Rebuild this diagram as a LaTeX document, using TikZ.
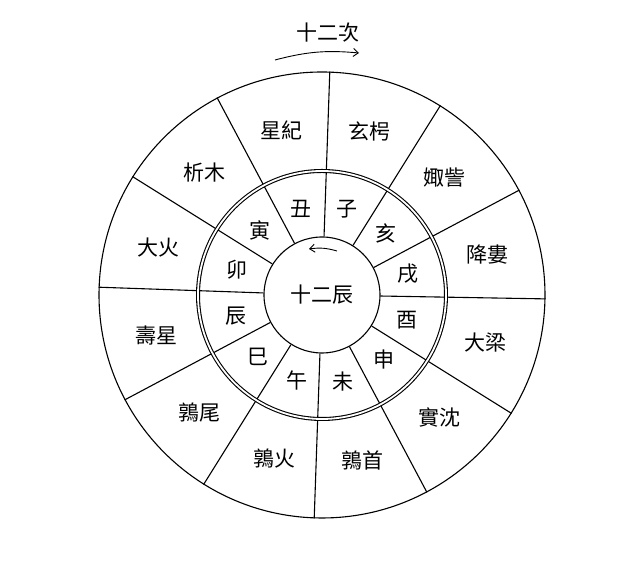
\documentclass[tikz,border=0pt]{standalone}
\usepackage{fontspec}
\setmainfont{Noto Sans CJK TC}
\usetikzlibrary{arrows.meta,backgrounds}

\begin{document}
\begin{tikzpicture}[x=1pt, y=1pt, line width=1.1pt,
  ring/.style = {circle, draw, line width=1.1pt, inner sep=0pt, minimum size=#1},
  spoke/.style = {line width=1.1pt},
  hanzi/.style = {font=\fontsize{21}{21}\selectfont, inner sep=0pt},
  turn/.style = {-{Straight Barb[length=5pt,width=8pt]}, line width=0.9pt},
  ]
  \useasboundingbox (0,0) rectangle (641,580);
  \coordinate (c) at (322,285);

  % rings
  \node[ring=446pt] (outer) at (c) {};
  \node[ring=248pt, double, double distance=1.8pt] (mid) at (c) {};
  \node[ring=116pt, hanzi] (inner) at (c) {十二辰};

  % spokes, behind the double ring
  \begin{pgfonlayer}{background}
    \foreach \k [evaluate=\k as \a using 30*\k-1.2] in {0,...,11}
      \draw[spoke] (inner.\a) -- (outer.\a);
  \end{pgfonlayer}

  % twelve ci
  \foreach \ci [count=\k, evaluate=\k as \a using 30*\k-15-1.2] in
      {降婁,娵訾,玄枵,星紀,析木,大火,壽星,鶉尾,鶉火,鶉首,實沈,大梁}
    \node[hanzi] (ci\k) at ([shift={(\a:170)}]c) {\ci};

  % twelve chen
  \foreach \ch [count=\k, evaluate=\k as \a using 30*\k-15-1.2] in
      {戌,亥,子,丑,寅,卯,辰,巳,午,未,申,酉}
    \node[hanzi] (ch\k) at ([shift={(\a:89)}]c) {\ch};

  % directions
  \node[hanzi] (cititle) at (328,547) {十二次};
  \coordinate (ciL) at (275,520);
  \coordinate (ciR) at (359,527);
  \draw[turn] (ciL) to[bend left=10] (ciR);
  \coordinate (chR) at (337,329);
  \coordinate (chL) at (309,331);
  \draw[turn] (chR) to[bend right=12] (chL);
\end{tikzpicture}
\end{document}
